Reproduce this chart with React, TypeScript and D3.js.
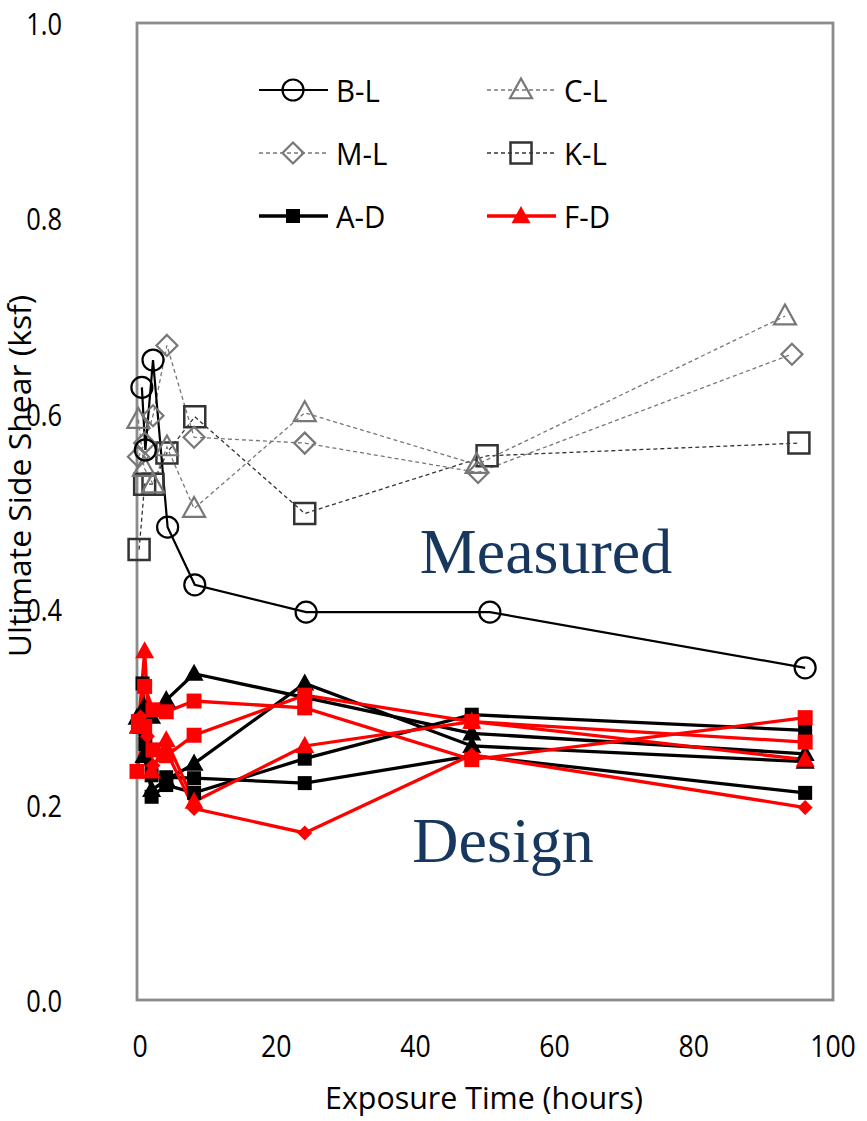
import React from "react";
import * as d3 from "d3";

// ---- Data ----
const xTicks = [0, 20, 40, 60, 80, 100];
const yTicks = [0.0, 0.2, 0.4, 0.6, 0.8, 1.0];

// Measured
const tBL = [0.7, 1.2, 2.3, 4.4, 8.3, 24.3, 50.7, 96];
const vBL = [0.627, 0.563, 0.655, 0.484, 0.425, 0.397, 0.397, 0.34];
const tCL = [0.2, 1.0, 2.3, 4.3, 8.2, 24.1, 48.8, 93.1];
const vCL = [0.594, 0.545, 0.528, 0.566, 0.503, 0.601, 0.548, 0.7];
const tML = [0.2, 1.1, 2.3, 4.3, 8.2, 24.1, 49.0, 94.1];
const vML = [0.556, 0.57, 0.598, 0.67, 0.576, 0.57, 0.54, 0.661];
const tKL = [0.3, 1.1, 2.3, 4.3, 8.3, 24.1, 50.3, 95.1];
const vKL = [0.461, 0.528, 0.528, 0.56, 0.597, 0.498, 0.557, 0.57];

// Design
const tAD = [0.8, 2.1, 4.2, 8.2, 24.1, 48.1, 96];
const vAD = [0.324, 0.208, 0.22, 0.212, 0.247, 0.292, 0.276];
const tD2 = [0.3, 1.2, 2.1, 4.2, 8.2, 24.1, 48.1, 96];
const vD2 = [0.28, 0.262, 0.23, 0.228, 0.227, 0.222, 0.25, 0.212];
const tD3 = [0.0, 1.0, 2.1, 4.2, 8.2, 48.1, 96];
const vD3 = [0.289, 0.3, 0.29, 0.307, 0.334, 0.273, 0.252];
const tD4 = [0.2, 1.0, 2.1, 4.2, 8.2, 24.1, 48.1, 96];
const vD4 = [0.28, 0.25, 0.215, 0.225, 0.242, 0.324, 0.26, 0.244];
const tFD = [0.2, 1.1, 2.1, 4.2, 8.2, 24.1, 48.1, 96];
const vFD = [0.28, 0.357, 0.234, 0.266, 0.203, 0.26, 0.285, 0.246];
const tR1 = [0.2, 1.1, 2.3, 4.2, 8.2, 24.1, 48.1, 96];
const vR1 = [0.285, 0.321, 0.297, 0.295, 0.306, 0.299, 0.246, 0.289];
const tR2 = [0.0, 1.1, 2.3, 4.2, 8.2, 24.1, 48.1, 96];
const vR2 = [0.234, 0.28, 0.256, 0.25, 0.271, 0.312, 0.285, 0.264];
const tR4 = [0.5, 1.5, 2.3, 4.2, 8.2, 24.1, 48.1, 96];
const vR4 = [0.29, 0.27, 0.24, 0.255, 0.196, 0.171, 0.251, 0.197];

const legendNames = ["B-L", "C-L", "M-L", "K-L", "A-D", "F-D"];

type Style = {
  color: string;
  width: number;
  dash?: string;
  shape: "circle" | "triangle" | "diamond" | "square";
  size: number;
  filled: boolean;
  mstroke: number;
};

const SBL: Style = { color: "#000", width: 2.2, shape: "circle", size: 21, filled: false, mstroke: 2.2 };
const SCL: Style = { color: "#777", width: 1.3, dash: "4,3", shape: "triangle", size: 22, filled: false, mstroke: 2.2 };
const SML: Style = { color: "#777", width: 1.3, dash: "4,3", shape: "diamond", size: 21, filled: false, mstroke: 2.2 };
const SKL: Style = { color: "#333", width: 1.3, dash: "4,3", shape: "square", size: 21, filled: false, mstroke: 2.5 };
const SAD: Style = { color: "#000", width: 3.3, shape: "square", size: 14, filled: true, mstroke: 0 };
const SBT: Style = { color: "#000", width: 3.3, shape: "triangle", size: 19, filled: true, mstroke: 0 };
const SFD: Style = { color: "#ff0000", width: 3.3, shape: "triangle", size: 19, filled: true, mstroke: 0 };
const SRS: Style = { color: "#ff0000", width: 3.3, shape: "square", size: 15, filled: true, mstroke: 0 };
const SRD: Style = { color: "#ff0000", width: 3.3, shape: "diamond", size: 15, filled: true, mstroke: 0 };

const series: { t: number[]; v: number[]; s: Style }[] = [
  { t: tKL, v: vKL, s: SKL },
  { t: tML, v: vML, s: SML },
  { t: tCL, v: vCL, s: SCL },
  { t: tBL, v: vBL, s: SBL },
  { t: tAD, v: vAD, s: SAD },
  { t: tD2, v: vD2, s: SAD },
  { t: tD3, v: vD3, s: SBT },
  { t: tD4, v: vD4, s: SBT },
  { t: tR1, v: vR1, s: SRS },
  { t: tR2, v: vR2, s: SRS },
  { t: tR4, v: vR4, s: SRD },
  { t: tFD, v: vFD, s: SFD },
];

const legendStyles = [SBL, SCL, SML, SKL, SAD, SFD];

function markerPath(s: Style): string {
  const h = s.size / 2;
  if (s.shape === "circle") {
    return d3.arc()({ innerRadius: 0, outerRadius: h, startAngle: 0, endAngle: Math.PI * 2 }) || "";
  }
  const p = d3.path();
  if (s.shape === "square") {
    p.rect(-h, -h, s.size, s.size);
  } else if (s.shape === "triangle") {
    p.moveTo(0, -h * 1.05);
    p.lineTo(h, h * 0.75);
    p.lineTo(-h, h * 0.75);
    p.closePath();
  } else {
    p.moveTo(0, -h);
    p.lineTo(h, 0);
    p.lineTo(0, h);
    p.lineTo(-h, 0);
    p.closePath();
  }
  return p.toString();
}

function Marker({ s, x, y }: { s: Style; x: number; y: number }) {
  return (
    <path
      d={markerPath(s)}
      transform={`translate(${x},${y})`}
      fill={s.filled ? s.color : "none"}
      stroke={s.filled ? "none" : s.color}
      strokeWidth={s.mstroke}
    />
  );
}

const FONT = "'Open Sans', 'Liberation Sans', sans-serif";

function NText({
  x,
  y,
  size,
  anchor,
  rotate = 0,
  sx = 0.86,
  baseline = "central",
  children,
}: {
  x: number;
  y: number;
  size: number;
  anchor: "start" | "middle" | "end";
  rotate?: number;
  sx?: number;
  baseline?: string;
  children: React.ReactNode;
}) {
  return (
    <text
      transform={`translate(${x},${y}) rotate(${rotate}) scale(${sx},1)`}
      textAnchor={anchor}
      dominantBaseline={baseline}
      fontFamily={FONT}
      fontSize={size}
      fill="#000"
    >
      {children}
    </text>
  );
}

export default function App() {
  const W = 867;
  const H = 1121;
  const x = d3.scaleLinear().domain([0, 100]).range([137, 833]);
  const y = d3.scaleLinear().domain([0, 1]).range([1000, 23]);

  const line = d3
    .line<[number, number]>()
    .x((d) => x(d[0]))
    .y((d) => y(d[1]));

  const legendRows = [90, 153, 216];
  const legendCols = [259, 487];

  return (
    <svg width={W} height={H} style={{ position: "absolute", left: 0, top: 0, background: "#fff" }}>
      <rect x={0} y={0} width={W} height={H} fill="#fff" />
      {/* frame */}
      <rect x={x(0)} y={y(1)} width={x(100) - x(0)} height={y(0) - y(1)} fill="none" stroke="#8c8c8c" strokeWidth={2.8} />

      {/* y tick labels */}
      {yTicks.map((t) => (
        <NText key={"y" + t} x={62} y={y(t)} size={31} anchor="end" sx={0.82}>
          {d3.format(".1f")(t)}
        </NText>
      ))}
      {/* x tick labels */}
      {xTicks.map((t) => (
        <NText key={"x" + t} x={x(t) + (t === 0 ? 3 : 0)} y={1045} size={31} anchor="middle">
          {t}
        </NText>
      ))}
      <NText x={484} y={1109} size={31} anchor="middle" sx={0.98} baseline="alphabetic">
        Exposure Time (hours)
      </NText>
      <NText x={31} y={476} size={31} anchor="middle" rotate={-90} sx={1.03} baseline="alphabetic">
        Ultimate Side Shear (ksf)
      </NText>

      {/* series lines */}
      {series.map((se, i) => (
        <path
          key={"l" + i}
          d={line(se.t.map((t, j) => [t, se.v[j]] as [number, number])) || ""}
          fill="none"
          stroke={se.s.color}
          strokeWidth={se.s.width}
          strokeDasharray={se.s.dash}
        />
      ))}
      {/* markers */}
      {series.map((se, i) =>
        se.t.map((t, j) => <Marker key={"m" + i + "-" + j} s={se.s} x={x(t)} y={y(se.v[j])} />)
      )}

      {/* annotations */}
      <text x={546} y={573} textAnchor="middle" fontFamily="'Liberation Serif', 'DejaVu Serif', serif" fontSize={64} fill="#17375e">
        Measured
      </text>
      <text x={503} y={862} textAnchor="middle" fontFamily="'Liberation Serif', 'DejaVu Serif', serif" fontSize={64} fill="#17375e">
        Design
      </text>

      {/* legend */}
      {legendNames.map((name, i) => {
        const st = legendStyles[i];
        const cx = legendCols[i % 2];
        const cy = legendRows[Math.floor(i / 2)];
        return (
          <g key={"lg" + name}>
            <line x1={cx} x2={cx + 69} y1={cy} y2={cy} stroke={st.color} strokeWidth={st.width} strokeDasharray={st.dash} />
            <Marker s={st} x={cx + 34} y={cy} />
            <NText x={cx + 77} y={cy} size={31} anchor="start" sx={0.95}>
              {name}
            </NText>
          </g>
        );
      })}
    </svg>
  );
}
